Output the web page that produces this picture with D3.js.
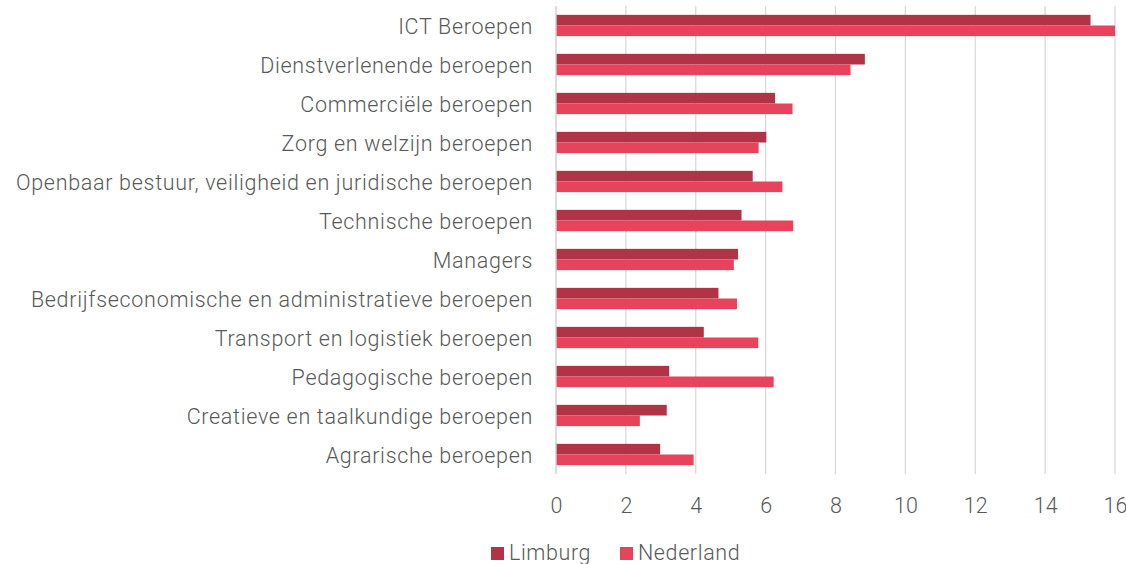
<!DOCTYPE html>
<html>
<head>
<meta charset="utf-8">
<script src="https://cdn.jsdelivr.net/npm/d3@7"></script>
<style>
  html, body { margin: 0; padding: 0; background: #fff; }
  svg { display: block; }
  text { font-family: Roboto, "Noto Sans", sans-serif; fill: #595959; }
</style>
</head>
<body>
<svg id="chart" width="1126" height="564"></svg>
<script>
const categories = [
  "ICT Beroepen",
  "Dienstverlenende beroepen",
  "Commerciële beroepen",
  "Zorg en welzijn beroepen",
  "Openbaar bestuur, veiligheid en juridische beroepen",
  "Technische beroepen",
  "Managers ",
  "Bedrijfseconomische en administratieve beroepen",
  "Transport en logistiek beroepen",
  "Pedagogische beroepen",
  "Creatieve en taalkundige beroepen",
  "Agrarische beroepen"
];
const seriesNames = ["Limburg", "Nederland"];
const limburg   = [15.30, 8.84, 6.27, 6.02, 5.63, 5.31, 5.21, 4.65, 4.23, 3.24, 3.17, 2.98];
const nederland = [16.00, 8.43, 6.77, 5.80, 6.48, 6.79, 5.09, 5.18, 5.79, 6.23, 2.40, 3.94];
const xTicks = [0, 2, 4, 6, 8, 10, 12, 14, 16];
const colors = ["#B03446", "#E8435C"];

const svg = d3.select("#chart");
const mLeft = 556, mRight = 1115, mTop = 6, mBottom = 474;
const fontSize = "21.5px", fontW = 300;

const x = d3.scaleLinear().domain([0, 16]).range([mLeft, mRight]);
const p = 0.454;
const y = d3.scaleBand().domain(categories).range([mTop, mBottom]).paddingInner(p).paddingOuter(p / 2);
const ySub = d3.scaleBand().domain(seriesNames).range([0, y.bandwidth()]);

// gridlines
svg.append("g").selectAll("line").data(xTicks).join("line")
  .attr("x1", d => x(d)).attr("x2", d => x(d))
  .attr("y1", mTop).attr("y2", mBottom)
  .attr("stroke", "#D9D9D9").attr("stroke-width", 1.3);

// bars
const data = categories.map((c, i) => ({ c, vals: [limburg[i], nederland[i]] }));
const groups = svg.append("g").selectAll("g").data(data).join("g")
  .attr("transform", d => `translate(0,${y(d.c)})`);
groups.selectAll("rect").data(d => d.vals.map((v, j) => ({ v, s: seriesNames[j], j }))).join("rect")
  .attr("x", x(0))
  .attr("y", d => ySub(d.s))
  .attr("width", d => x(d.v) - x(0))
  .attr("height", ySub.bandwidth())
  .attr("fill", d => colors[d.j]);

// category axis line
svg.append("line").attr("x1", x(0)).attr("x2", x(0)).attr("y1", mTop).attr("y2", mBottom)
  .attr("stroke", "#D9D9D9").attr("stroke-width", 1.3);

function styleText(sel, ls) {
  sel.style("font-size", fontSize).style("letter-spacing", ls).style("font-weight", fontW)
    .style("fill", "#595959").style("font-family", "Roboto, sans-serif");
}

// y labels
const yAxis = svg.append("g").attr("transform", `translate(${x(0)},0)`)
  .call(d3.axisLeft(y).tickSize(0).tickPadding(23));
yAxis.select(".domain").remove();
yAxis.selectAll("text").attr("dy", "0.4em").call(styleText, "0.7px");

// x labels
const xAxis = svg.append("g").attr("transform", `translate(0,${mBottom})`)
  .call(d3.axisBottom(x).tickValues(xTicks).tickSize(0).tickPadding(24));
xAxis.select(".domain").remove();
xAxis.selectAll("text").call(styleText, "0px");

// legend
const legend = svg.append("g");
const legendItems = [{ name: "Limburg", x: 491 }, { name: "Nederland", x: 620 }];
legendItems.forEach((it, i) => {
  legend.append("rect").attr("x", it.x).attr("y", 547).attr("width", 13).attr("height", 13)
    .attr("fill", colors[i]);
  legend.append("text").attr("x", it.x + 18).attr("y", 560).text(seriesNames[i]).call(styleText, "0.6px");
});
</script>
</body>
</html>
